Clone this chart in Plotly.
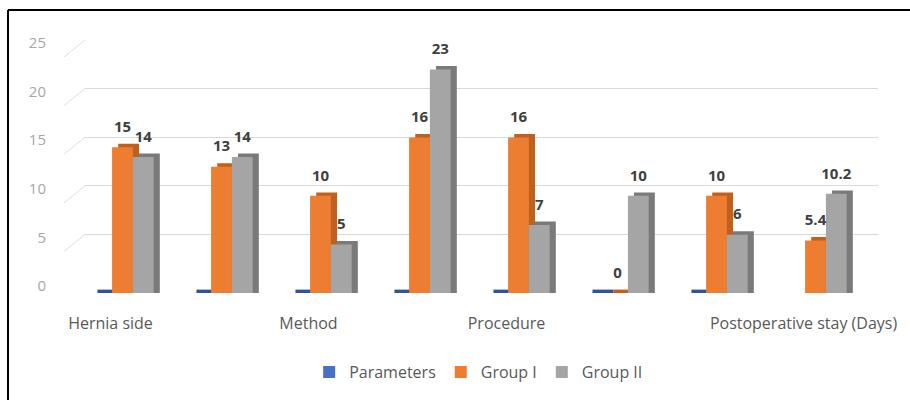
import plotly.graph_objects as go

# ---------------- data ----------------
category_labels = ["Hernia side", "", "Method", "", "Procedure", "", "", "Postoperative stay (Days)"]
series_names = ["Parameters", "Group I", "Group II"]
parameters = [0, 0, 0, 0, 0, 0, 0, None]
group1 = [15, 13, 10, 16, 16, 0, 10, 5.4]
group2 = [14, 14, 5, 23, 7, 10, 6, 10.2]
y_ticks = [0, 5, 10, 15, 20, 25]

# ---------------- styling ----------------
W, H = 910, 400
def fx(px):
    return px / W
def fy(py):
    return (H - py) / H

front_colors = ["#4472C4", "#ED7D31", "#A5A5A5"]
side_colors = ["#2F5597", "#C0601E", "#7A7A7A"]
BAR_W = 0.21
offsets = [-0.315, -0.105, 0.105]
DX = 0.062   # depth shift (category units)
DY = 0.35    # depth shift (value units)
LABEL_LIFT = 1.95

xs = list(range(len(category_labels)))
all_series = [parameters, group1, group2]

fig = go.Figure()

# dummy trace for the back-wall grid subplot
fig.add_trace(go.Scatter(x=[None], y=[None], xaxis="x", yaxis="y",
                         showlegend=False, hoverinfo="skip"))

# depth (side/top) faces
for name, vals, off, col in zip(series_names, all_series, offsets, side_colors):
    fig.add_trace(go.Bar(
        x=xs, y=[None if v is None else v + DY for v in vals], base=0,
        width=BAR_W, offset=off + DX, marker=dict(color=col, line=dict(width=0)),
        xaxis="x2", yaxis="y2", showlegend=False, hoverinfo="skip"))

# front faces
for name, vals, off, col in zip(series_names, all_series, offsets, front_colors):
    fig.add_trace(go.Bar(
        x=xs, y=vals, width=BAR_W, offset=off, name=name,
        marker=dict(color=col, line=dict(width=0)),
        xaxis="x2", yaxis="y2", showlegend=True))

# data labels for Group I and Group II
for vals, off in zip([group1, group2], offsets[1:]):
    fig.add_trace(go.Scatter(
        x=[i + off + BAR_W / 2 for i in xs],
        y=[v + LABEL_LIFT for v in vals],
        text=[f"{v:g}" for v in vals],
        mode="text", textposition="middle center",
        textfont=dict(family="Open Sans", size=15, color="#404040", weight="bold"),
        xaxis="x2", yaxis="y2", showlegend=False, hoverinfo="skip", cliponaxis=False))

shapes = []
# side-wall diagonal grid segments
for t in y_ticks:
    shapes.append(dict(type="line", xref="paper", yref="y",
                       x0=fx(64), y0=t - 1.75, x1=fx(85), y1=t,
                       line=dict(color="#dedede", width=1)))
# frame (left and top edges)
shapes.append(dict(type="line", xref="paper", yref="paper",
                   x0=fx(8), y0=0, x1=fx(8), y1=fy(10), line=dict(color="black", width=2)))
shapes.append(dict(type="line", xref="paper", yref="paper",
                   x0=fx(8), y0=fy(10), x1=1, y1=fy(10), line=dict(color="black", width=2)))

tick_pos = [i for i, lab in zip(xs, category_labels) if lab]
tick_txt = [lab for lab in category_labels if lab]

fig.update_layout(
    width=W, height=H, margin=dict(l=0, r=0, t=0, b=0),
    paper_bgcolor="white", plot_bgcolor="rgba(0,0,0,0)",
    barmode="overlay", template="none",
    font=dict(family="Open Sans", color="#595959"),
    xaxis=dict(domain=[fx(85), fx(878)], range=[0, 1], visible=False, anchor="y"),
    yaxis=dict(domain=[fy(283), fy(40)], range=[0, 25], anchor="x",
               tickvals=y_ticks, showgrid=True, gridcolor="#d9d9d9", gridwidth=1,
               showticklabels=False, zeroline=False, showline=False, ticks=""),
    xaxis2=dict(domain=[fx(73), fx(865)], range=[-0.5, 7.5], anchor="y2",
                tickvals=tick_pos, ticktext=tick_txt, showgrid=False, zeroline=False,
                showline=False, ticks="", ticklabelshift=-12, ticklabelstandoff=19,
                tickfont=dict(family="Open Sans", size=16, color="#595959"),
                automargin=False),
    yaxis2=dict(domain=[fy(293), fy(50)], range=[0, 25], anchor="x2",
                tickvals=y_ticks, showgrid=False, zeroline=False, showline=False,
                ticks="", ticklabelshift=-7, ticklabelstandoff=26,
                tickfont=dict(family="Open Sans", size=15, color="#a6a6a6"),
                automargin=False),
    legend=dict(orientation="h", x=0.526, xanchor="center", y=fy(372), yanchor="middle",
                font=dict(family="Open Sans", size=16, color="#595959"),
                itemwidth=30, bgcolor="rgba(0,0,0,0)"),
    shapes=shapes,
)

fig.write_html("out.html")
